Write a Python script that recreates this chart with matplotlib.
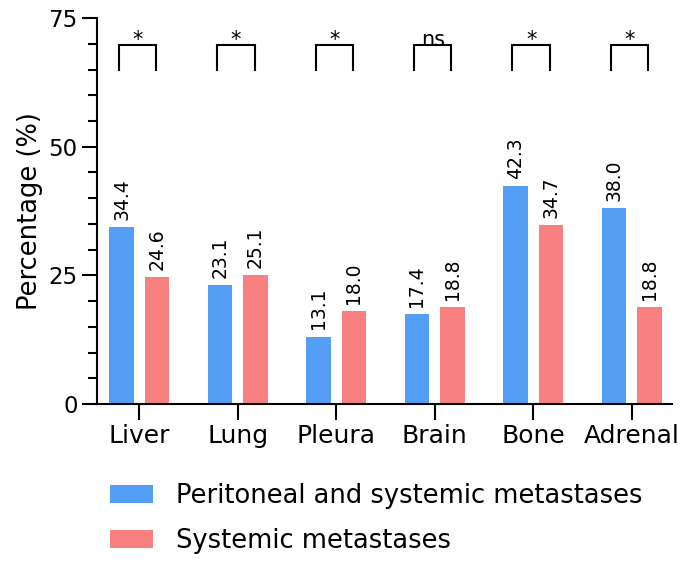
import numpy as np
import matplotlib.pyplot as plt
from matplotlib.ticker import MultipleLocator

plt.rcParams['font.family'] = ['DejaVu Sans']

sites = ['Liver', 'Lung', 'Pleura', 'Brain', 'Bone', 'Adrenal']
peritoneal = [34.4, 23.1, 13.1, 17.4, 42.3, 38.0]
systemic = [24.6, 25.1, 18.0, 18.8, 34.7, 18.8]
signif = ['*', '*', '*', 'ns', '*', '*']

blue = '#559EF5'
red = '#F88080'

fig = plt.figure(figsize=(6.85, 5.65), dpi=100)
ax = fig.add_axes([0.1416, 0.285, 0.8394, 0.683])

x = np.arange(len(sites))
w = 0.25
off = 0.18
b1 = ax.bar(x - off, peritoneal, w, color=blue, label='Peritoneal and systemic metastases')
b2 = ax.bar(x + off, systemic, w, color=red, label='Systemic metastases')

for bars, vals in [(b1, peritoneal), (b2, systemic)]:
    for r, v in zip(bars, vals):
        ax.text(r.get_x() + r.get_width() / 2, v + 1.4, f'{v:.1f}',
                rotation=90, ha='center', va='bottom', fontsize=13.5)

# significance brackets
for i, s in enumerate(signif):
    x0, x1 = i - 0.21, i + 0.17
    ax.plot([x0, x0, x1, x1], [65, 69.7, 69.7, 65], color='black', lw=1.5,
            solid_joinstyle='miter', clip_on=False)
    if s == 'ns':
        ax.text((x0 + x1) / 2, 69.5, s, ha='center', va='baseline', fontsize=15)
    else:
        ax.text((x0 + x1) / 2, 69.5, s, ha='center', va='baseline', fontsize=15)

ax.set_xlim(-0.43, 5.41)
ax.set_ylim(0, 75)
ax.yaxis.set_major_locator(MultipleLocator(25))
ax.yaxis.set_minor_locator(MultipleLocator(5))
ax.set_xticks(x)
ax.set_xticklabels(sites, fontsize=18)
ax.tick_params(axis='y', which='major', length=11, width=1.5, labelsize=16.5, pad=3)
ax.tick_params(axis='y', which='minor', length=6.5, width=1.5)
ax.tick_params(axis='x', length=11.5, width=1.5, pad=3)
ax.set_ylabel('Percentage (%)', fontsize=18.5, labelpad=4)

for sp in ['top', 'right']:
    ax.spines[sp].set_visible(False)
for sp in ['left', 'bottom']:
    ax.spines[sp].set_linewidth(1.5)

fig.legend(handles=[b1, b2], loc='center left', bbox_to_anchor=(0.16, 0.082),
           frameon=False, fontsize=18.5, handlelength=1.7, handleheight=0.68,
           handletextpad=0.9, labelspacing=0.75, borderaxespad=0,
           borderpad=0)

fig.savefig('out.png', dpi=100)
